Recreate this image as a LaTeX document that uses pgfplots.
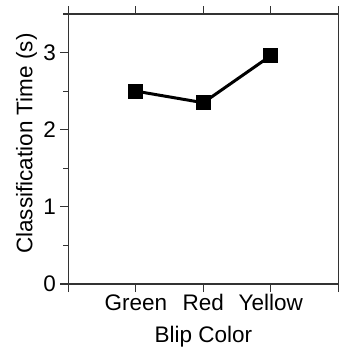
\documentclass[border=0pt]{standalone}
\usepackage{pgfplots}
\pgfplotsset{compat=1.18}
\usepackage{fontspec}
\setmainfont{Liberation Sans}
\newcommand{\chartfont}{\fontsize{22.5bp}{26bp}\selectfont}
\definecolor{axisgray}{gray}{0.2}
\begin{document}
\begin{tikzpicture}
\begin{axis}[
  at={(0,0)}, anchor=south west,
  width=270bp, height=270bp, scale only axis,
  xmin=0, xmax=4, ymin=0, ymax=3.5,
  xtick={0,1,2,3,4}, xticklabels={,Green,Red,Yellow,},
  ytick={0,1,2,3}, minor ytick={0.5,1.5,2.5,3.5},
  tick align=outside, xtick pos=both, ytick pos=left,
  major tick length=8bp, minor tick length=5bp,
  axis line style={line width=1.2bp, axisgray},
  every tick/.style={line width=1.2bp, axisgray},
  /pgf/number format/assume math mode=true,
  tick label style={font=\chartfont},
  xticklabel style={anchor=base, yshift=-18bp},
  yticklabel style={anchor=east, xshift=-1bp},
  label style={font=\chartfont},
  xlabel={Blip Color}, ylabel={Classification Time (s)},
  xlabel style={at={(axis description cs:0.5,-0.2185)}, anchor=base},
  ylabel style={at={(axis description cs:-0.1333,0.52)}, anchor=base},
  clip=false,
]
\addplot[black, line width=3bp, mark=square*, mark size=7bp,
  mark options={solid, fill=black, line width=0pt}]
  coordinates {(1,2.50) (2,2.35) (3,2.96)};
\end{axis}
\pgfresetboundingbox
\useasboundingbox (-68.3bp,-66bp) rectangle (271.7bp,284bp);
\end{tikzpicture}
\end{document}
